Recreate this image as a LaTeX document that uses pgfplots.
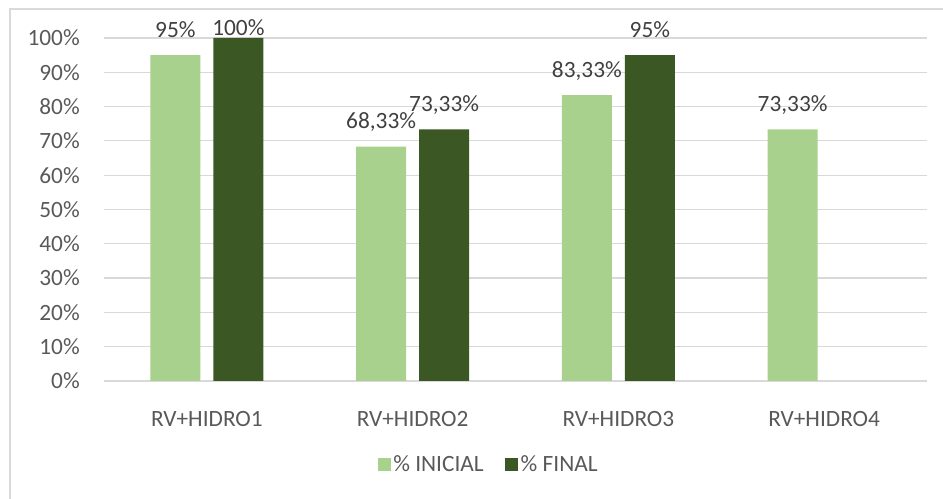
\documentclass[border=0pt]{standalone}
\usepackage{pgfplots}
\pgfplotsset{compat=1.18}
\usepackage{fontspec}
\setmainfont{Carlito}
\definecolor{inicial}{HTML}{A9D18E}
\definecolor{final}{HTML}{3A5724}
\definecolor{gridc}{HTML}{D9D9D9}
\definecolor{txt}{HTML}{595959}
\definecolor{lbl}{HTML}{404040}
\begin{document}
\begin{tikzpicture}
\useasboundingbox (-78pt,-88.5pt) rectangle (629.25pt,285.75pt);
\draw[gridc, line width=1pt] (-70.5pt,-88.5pt) -- (-70.5pt,279pt) -- (629.25pt,279pt);
\begin{axis}[
  at={(0pt,0pt)}, anchor=south west,
  scale only axis, width=617.25pt, height=257.25pt,
  xmin=-0.5, xmax=3.5, ymin=0, ymax=100,
  clip=false,
  ybar=9.75pt, bar width=37.5pt,
  axis line style={draw=none},
  tick style={draw=none},
  ymajorgrids, grid style={gridc, line width=0.9pt},
  xtick={0,1,2,3},
  xticklabels={RV+HIDRO1,RV+HIDRO2,RV+HIDRO3,RV+HIDRO4},
  ytick={0,10,...,100},
  yticklabel={\pgfmathprintnumber{\tick}\%},
  /pgf/number format/assume math mode=true,
  ticklabel style={font=\fontsize{17.5}{21}\selectfont, text=txt},
  yticklabel style={inner sep=0pt, xshift=-18pt},
  xticklabel style={inner sep=0pt, yshift=-18pt},
  legend columns=2,
  legend style={draw=none, fill=none, font=\fontsize{17.5}{21}\selectfont, text=txt,
    at={(axis description cs:0.4678,-0.2449)}, anchor=center,
    /tikz/every even column/.append style={column sep=14pt}},
  legend image code/.code={\fill[#1] (0pt,-4.875pt) rectangle (9.75pt,4.875pt);},
  point meta=explicit symbolic,
  nodes near coords,
  visualization depends on={y \as \rawy},
  nodes near coords style={font=\fontsize{17.5}{21}\selectfont, text=lbl, anchor=base, inner sep=0pt,
    yshift={ifthenelse(\rawy>99,1.5,13.5)}},
]
\addplot[fill=inicial, draw=none] coordinates {(0,95) [95\%] (1,68.33) [68,33\%] (2,83.33) [83,33\%] (3,73.33) [73,33\%]};
\addplot[fill=final, draw=none] coordinates {(0,100) [100\%] (1,73.33) [73,33\%] (2,95) [95\%]};
\legend{\% INICIAL, \% FINAL}
\end{axis}
\end{tikzpicture}
\end{document}
